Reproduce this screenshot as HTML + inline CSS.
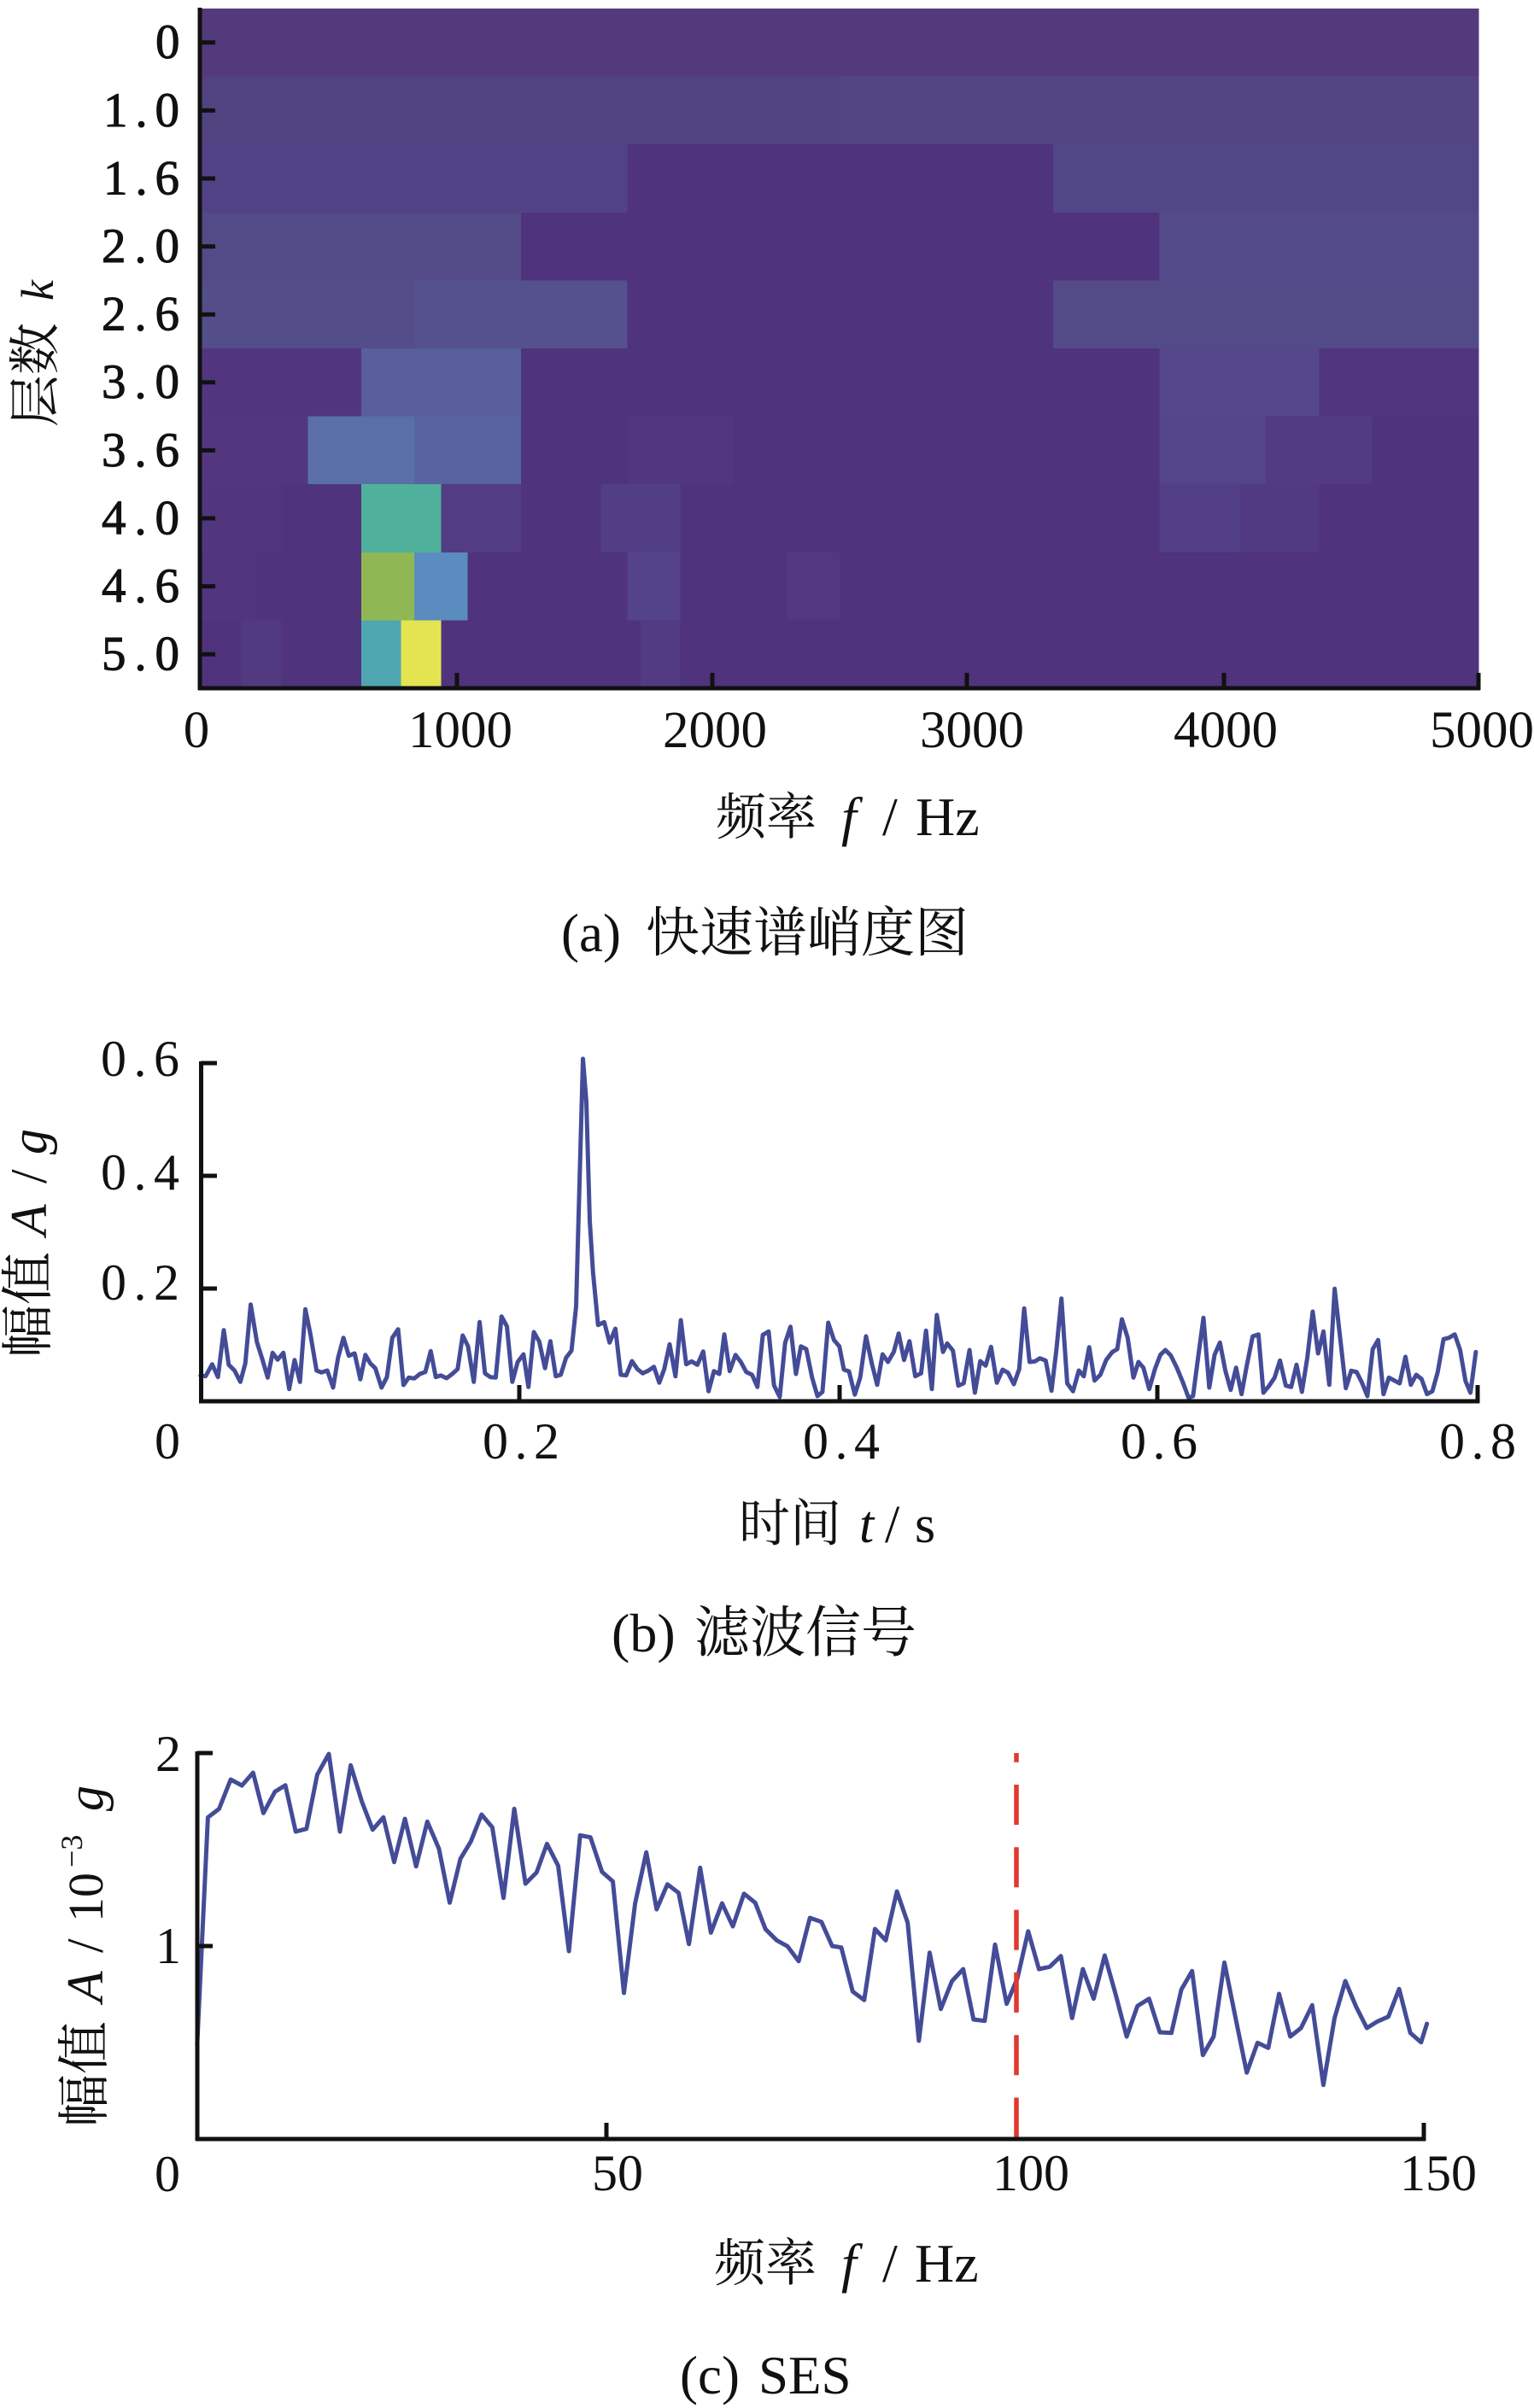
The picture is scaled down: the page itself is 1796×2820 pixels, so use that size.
<!DOCTYPE html>
<html>
<head>
<meta charset="utf-8">
<style>
  html,body{margin:0;padding:0;background:#fff;}
  svg{display:block;}
  text{font-family:"Liberation Serif","Noto Serif CJK SC",serif;fill:#111;}
  .cjk{font-family:"Liberation Serif","Noto Serif CJK SC","Noto Sans CJK SC",serif;}
</style>
</head>
<body>
<svg width="1796" height="2820" viewBox="0 0 1796 2820" xmlns="http://www.w3.org/2000/svg">
  <rect x="0" y="0" width="1796" height="2820" fill="#fff"/>

  <!-- ================= (a) Kurtogram ================= -->
  <g shape-rendering="crispEdges">
    <rect x="234" y="10" width="1497.3" height="796" fill="#4f337d"/>
    <rect x="234" y="10" width="1497.3" height="79.6" fill="#533a7d"/>
    <rect x="234" y="89.6" width="749.7" height="79.6" fill="#514380"/>
    <rect x="983.7" y="89.6" width="747.6" height="79.6" fill="#534584"/>
    <rect x="234" y="169.2" width="500.4" height="79.6" fill="#514286"/>
    <rect x="1232.9" y="169.2" width="498.4" height="79.6" fill="#524786"/>
    <rect x="234" y="248.8" width="375.8" height="79.6" fill="#534a88"/>
    <rect x="1357.5" y="248.8" width="373.8" height="79.6" fill="#534b89"/>
    <rect x="234" y="328.4" width="251.2" height="79.6" fill="#534d8a"/>
    <rect x="485.2" y="328.4" width="249.2" height="79.6" fill="#55508e"/>
    <rect x="1232.9" y="328.4" width="498.4" height="79.6" fill="#534a88"/>
    <rect x="234" y="408" width="188.9" height="79.6" fill="#51367f"/>
    <rect x="422.9" y="408" width="186.9" height="79.6" fill="#585f9b"/>
    <rect x="1357.5" y="408" width="186.9" height="79.6" fill="#54478a"/>
    <rect x="1544.4" y="408" width="186.9" height="79.6" fill="#51357e"/>
    <rect x="234" y="487.6" width="126.6" height="79.6" fill="#52377f"/>
    <rect x="360.6" y="487.6" width="124.6" height="79.6" fill="#5a6fa8"/>
    <rect x="485.2" y="487.6" width="124.6" height="79.6" fill="#5863a1"/>
    <rect x="734.4" y="487.6" width="124.6" height="79.6" fill="#51377f"/>
    <rect x="1357.5" y="487.6" width="124.6" height="79.6" fill="#534588"/>
    <rect x="1482.1" y="487.6" width="124.6" height="79.6" fill="#523b82"/>
    <rect x="234" y="567.2" width="95.5" height="79.6" fill="#51367e"/>
    <rect x="422.9" y="567.2" width="93.5" height="79.6" fill="#4fb19b"/>
    <rect x="516.4" y="567.2" width="93.4" height="79.6" fill="#523c83"/>
    <rect x="703.3" y="567.2" width="93.4" height="79.6" fill="#523e85"/>
    <rect x="1357.5" y="567.2" width="93.5" height="79.6" fill="#533f88"/>
    <rect x="1451" y="567.2" width="93.4" height="79.6" fill="#523a82"/>
    <rect x="234" y="646.8" width="64.3" height="79.6" fill="#51357e"/>
    <rect x="422.9" y="646.8" width="62.3" height="79.6" fill="#8fb855"/>
    <rect x="485.2" y="646.8" width="62.3" height="79.6" fill="#5a8cc0"/>
    <rect x="734.4" y="646.8" width="62.3" height="79.6" fill="#54438b"/>
    <rect x="921.4" y="646.8" width="62.3" height="79.6" fill="#51387f"/>
    <rect x="282.7" y="726.4" width="46.8" height="79.6" fill="#523a80"/>
    <rect x="422.9" y="726.4" width="46.7" height="79.6" fill="#4ea6b1"/>
    <rect x="469.6" y="726.4" width="46.8" height="79.6" fill="#e4e450"/>
    <rect x="750" y="726.4" width="46.7" height="79.6" fill="#523b83"/>
  </g>

  <g stroke="#111" stroke-width="5" fill="none">
    <line x1="234" y1="9" x2="234" y2="808"/>
    <line x1="232" y1="806" x2="1733" y2="806"/>
    <line x1="234" y1="49.8" x2="252" y2="49.8"/>
    <line x1="234" y1="129.4" x2="252" y2="129.4"/>
    <line x1="234" y1="209" x2="252" y2="209"/>
    <line x1="234" y1="288.6" x2="252" y2="288.6"/>
    <line x1="234" y1="368.2" x2="252" y2="368.2"/>
    <line x1="234" y1="447.8" x2="252" y2="447.8"/>
    <line x1="234" y1="527.4" x2="252" y2="527.4"/>
    <line x1="234" y1="607" x2="252" y2="607"/>
    <line x1="234" y1="686.6" x2="252" y2="686.6"/>
    <line x1="234" y1="766.2" x2="252" y2="766.2"/>
    <line x1="535" y1="806" x2="535" y2="788"/>
    <line x1="834" y1="806" x2="834" y2="788"/>
    <line x1="1132" y1="806" x2="1132" y2="788"/>
    <line x1="1433" y1="806" x2="1433" y2="788"/>
    <line x1="1731" y1="808" x2="1731" y2="788"/>
  </g>

  <g font-size="57" stroke="#111" stroke-width="1">
    <text x="182" y="68">0</text>
    <text x="121" y="148" textLength="89" lengthAdjust="spacing">1.0</text>
    <text x="121" y="227.5" textLength="89" lengthAdjust="spacing">1.6</text>
    <text x="119" y="307" textLength="91" lengthAdjust="spacing">2.0</text>
    <text x="119" y="386.5" textLength="91" lengthAdjust="spacing">2.6</text>
    <text x="119" y="466" textLength="91" lengthAdjust="spacing">3.0</text>
    <text x="119" y="546" textLength="91" lengthAdjust="spacing">3.6</text>
    <text x="119" y="625.5" textLength="91" lengthAdjust="spacing">4.0</text>
    <text x="119" y="705" textLength="91" lengthAdjust="spacing">4.6</text>
    <text x="119" y="784.5" textLength="91" lengthAdjust="spacing">5.0</text>
  </g>
  <g font-size="61" text-anchor="middle">
    <text x="230" y="875">0</text>
    <text x="539" y="875">1000</text>
    <text x="837" y="875">2000</text>
    <text x="1138" y="875">3000</text>
    <text x="1435" y="875">4000</text>
    <text x="1735" y="875">5000</text>
  </g>
  <text class="cjk" x="838" y="977" font-size="59">频率</text>
  <text x="985" y="978" font-size="64" font-style="italic">f</text>
  <text x="1033" y="978" font-size="64">/</text>
  <text x="1072" y="978" font-size="64">Hz</text>

  <text class="cjk" transform="translate(62,500) rotate(-90)" font-size="61">层数</text>
  <text transform="translate(62,352) rotate(-90)" font-size="54" font-style="italic">k</text>

  <text x="657" y="1114" font-size="63">(a)</text>
  <text class="cjk" x="756" y="1114" font-size="63">快速谱峭度图</text>

  <!-- ================= (b) Filtered signal ================= -->
  <polyline fill="none" stroke="#444c98" stroke-width="5" stroke-linejoin="round" stroke-linecap="round" points="
234.8,1611 240.7,1611.7 248.4,1597.7 255.2,1612.7 262,1557.7 267.8,1598.3 274.6,1605 281.4,1618.3 287.2,1596.7 293.5,1527.7 300.8,1571.7 307.6,1593.3 313.4,1613.3 319.2,1584.3 325,1592.3 331.8,1584.3 338.6,1626.7 344.9,1592.7 351.2,1618.3 357.5,1533.3 363.3,1561.7 370.6,1605 376.4,1607.3 383.2,1605 390,1625 395.8,1590 402.1,1566.7 408.4,1587.7 415.2,1585 421.9,1615.3 427.8,1586.7 433.6,1596.7 439.4,1602.3 446.7,1625 453,1612.7 459.3,1566.7 466.1,1556.7 472.4,1622 478.6,1613.3 485,1614.3 491.7,1609 498,1606.7 504.3,1582.3 510.2,1612.7 516,1610.7 522.8,1614 529.5,1609 535.8,1603.3 541.7,1564 548,1576.7 554.7,1618.3 561.5,1548.3 567.8,1608.3 574.1,1612.7 580.4,1613.3 587.2,1541.7 593.5,1553.3 599.8,1618.3 606.1,1595 612.9,1586 618.7,1624.3 625,1560 631.3,1571 638.1,1602.3 644.4,1570.7 650.7,1611.7 656.5,1610 662.8,1590 669.1,1581.7 674.5,1530 682.5,1240 686.5,1290 690.5,1430 694.3,1490 700.2,1551.7 707.4,1548.3 713.7,1572.3 720.5,1556 726.8,1610 733.1,1610.7 739.9,1594 746.2,1603.3 752.5,1608.3 759.3,1605 765.6,1600.7 771.9,1619.3 777.7,1603.3 784,1574.3 790.8,1611.7 797.1,1546 803.4,1597.7 809.7,1594.3 816.5,1598.3 823.3,1582.7 829.6,1629.3 835.9,1605.7 842.2,1609 848,1562.7 854.3,1605.7 861.1,1586.7 867.4,1595 873.7,1606.7 880.5,1610 886.8,1624.3 893.1,1563.3 899.9,1559.3 906.2,1622.3 912.9,1636 919.2,1572.7 925.5,1553.7 931.9,1609 937.7,1576.7 944,1580 950.8,1613.3 957.1,1635 962.9,1630 969.7,1549 976.4,1569.3 982.7,1576.7 988,1604 994,1606 1000.8,1633.3 1007.1,1613.3 1013.9,1565 1020.7,1596.7 1027,1621.7 1033.3,1586 1039.6,1595 1046.4,1583.3 1052.2,1561.7 1058.5,1592.7 1064.8,1570.7 1071.6,1611.7 1078.4,1608.3 1084.2,1558.3 1091,1626.7 1096.8,1540 1104.1,1583.3 1108.9,1573.3 1115.7,1581.7 1122,1622.7 1128.3,1620 1135.1,1581 1141.4,1631 1147.7,1594 1154,1599.3 1160.3,1577.3 1167.1,1619.3 1173.9,1604 1180.2,1607.7 1187,1621 1193.3,1603.3 1199.1,1532.3 1205.4,1595 1211.7,1594.3 1217.5,1590.7 1224.3,1593.3 1231.1,1628.7 1236.9,1580 1242.7,1520.7 1249.5,1620 1256.3,1629.3 1263.1,1605 1268.9,1611.7 1275.2,1577.7 1281.5,1616.7 1288.3,1610 1295.1,1592.7 1302.3,1583.3 1308.1,1580 1313.5,1545 1320.3,1566.7 1327,1613.3 1332.9,1595 1338.7,1601.7 1345.5,1626.7 1352.2,1603.3 1358.5,1586.7 1364.4,1581 1370.7,1587.3 1377.5,1601 1384.7,1618.3 1391.5,1636.7 1396.8,1635 1402.7,1590 1409,1543.3 1415.8,1625 1422,1586.7 1428.3,1572.3 1434.6,1605 1440.9,1627.7 1447.2,1601.7 1453.6,1632.7 1459.9,1598.3 1466.6,1565 1473.4,1562.7 1479.2,1631 1486,1622.7 1492.3,1613.3 1498.6,1593.3 1505.4,1622.7 1511.7,1624.3 1518,1598.3 1524.3,1630 1530.6,1590 1536.9,1536 1543.2,1585 1549.5,1559.3 1556.3,1621.7 1562.6,1509.3 1569.4,1570 1575.7,1625.7 1582,1605.3 1588.3,1606.7 1594.6,1619.3 1600.9,1635 1607.2,1580 1613.5,1569.3 1619.8,1632.7 1626.1,1613.3 1632.4,1616.7 1638.7,1620 1645.5,1589 1651.8,1621.7 1658.1,1610 1664.4,1615 1670.7,1632.7 1677,1629.3 1683.3,1606.7 1690.1,1568.3 1696.4,1566.7 1703.2,1562.7 1709.5,1581 1715.8,1617.3 1721.6,1631 1727.9,1583.3"/>

  <g stroke="#111" stroke-width="5" fill="none">
    <line x1="235.5" y1="1243" x2="235.5" y2="1643"/>
    <line x1="233" y1="1641" x2="1732" y2="1641"/>
    <line x1="235" y1="1245" x2="254" y2="1245"/>
    <line x1="235" y1="1377" x2="254" y2="1377"/>
    <line x1="235" y1="1509" x2="254" y2="1509"/>
    <line x1="608" y1="1641" x2="608" y2="1622"/>
    <line x1="983" y1="1641" x2="983" y2="1622"/>
    <line x1="1355" y1="1641" x2="1355" y2="1622"/>
    <line x1="1730" y1="1643" x2="1730" y2="1622"/>
  </g>

  <g font-size="60">
    <text x="118" y="1260" textLength="92" lengthAdjust="spacing">0.6</text>
    <text x="118" y="1393" textLength="92" lengthAdjust="spacing">0.4</text>
    <text x="118" y="1522" textLength="92" lengthAdjust="spacing">0.2</text>
    <text x="181" y="1708">0</text>
    <text x="565" y="1708" textLength="90" lengthAdjust="spacing">0.2</text>
    <text x="940" y="1708" textLength="90" lengthAdjust="spacing">0.4</text>
    <text x="1312" y="1708" textLength="90" lengthAdjust="spacing">0.6</text>
    <text x="1685" y="1708" textLength="90" lengthAdjust="spacing">0.8</text>
  </g>

  <text class="cjk" x="865" y="1805" font-size="60">时间</text>
  <text x="1006" y="1806" font-size="62" font-style="italic">t</text>
  <text x="1036" y="1806" font-size="62">/</text>
  <text x="1071" y="1806" font-size="62">s</text>

  <text class="cjk" transform="translate(54,1590) rotate(-90)" font-size="62">幅值</text>
  <text transform="translate(54,1447) rotate(-90)" font-size="60" font-style="italic">A</text>
  <text transform="translate(54,1386) rotate(-90)" font-size="60">/</text>
  <text transform="translate(54,1352) rotate(-90)" font-size="60" font-style="italic">g</text>

  <text x="716" y="1934" font-size="64">(b)</text>
  <text class="cjk" x="813" y="1934" font-size="65">滤波信号</text>

  <!-- ================= (c) SES ================= -->
  <polyline fill="none" stroke="#444c98" stroke-width="5" stroke-linejoin="round" stroke-linecap="round" points="
230.8,2395 243.4,2128.3 256.5,2118.3 270.1,2084 283.2,2091 296.3,2076 308.4,2123.3 321.9,2098.3 334.1,2090.7 346.2,2145 358.8,2141.7 371.4,2078.3 385,2054 398,2145 410.6,2067.3 423.7,2110 436.3,2142.7 448.9,2128.3 461.5,2180.7 474.1,2130 487.2,2185.7 500.3,2133.3 513.9,2165 526.5,2228.3 539.1,2176.7 551.2,2156.7 563.8,2125 576.4,2140 589.5,2222.7 602.1,2118.3 615.2,2206 628.3,2192.7 640.4,2159.3 653.5,2185 666.1,2285 679.2,2149.3 691.3,2151.7 704.9,2192.3 717.5,2203.3 730.5,2334 743.6,2229 756.7,2169.3 768.8,2236 781.4,2206.7 794.5,2216.7 806.6,2276.7 819.7,2187.3 832.3,2263.3 845.4,2229 858,2256 871.1,2217.7 884.2,2228.3 896.3,2259.3 909.4,2272.3 922,2279.3 935.1,2296.7 948.2,2246 961.7,2250.7 974.3,2279 985,2280.7 998.3,2332.3 1011.8,2342.3 1024.4,2259 1037,2272.3 1050.1,2215 1062.7,2251.7 1075.8,2390 1088.4,2286.7 1101.5,2352.7 1114.6,2320 1127.7,2306 1139.8,2365 1152.9,2366.7 1165,2277.3 1178.6,2346.7 1191.2,2316.7 1203.8,2261.7 1216.4,2306 1229,2303.3 1242.1,2290.7 1255.2,2363.3 1267.8,2306 1280.4,2340.7 1293.4,2290 1306.5,2336.7 1319.1,2385 1331.7,2349.3 1345.3,2340.7 1357.9,2380 1371.5,2380.7 1383.1,2330 1395.7,2308.3 1408.3,2406.7 1420.9,2385 1433.5,2298.3 1446.6,2363.3 1459.7,2427.3 1472.3,2392.3 1484.9,2398.3 1497.5,2335 1510.6,2385 1523.2,2375 1536.3,2348.3 1549.4,2441.7 1562.5,2363.3 1575.1,2320 1587.7,2350 1600.3,2375 1612.8,2367.3 1625.5,2361.7 1638.1,2329.3 1651.2,2380.7 1663.8,2391.7 1670.6,2370"/>

  <line x1="1190" y1="2053" x2="1190" y2="2503" stroke="#e0392f" stroke-width="5.5" stroke-dasharray="47 26.3" stroke-dashoffset="36.3"/>

  <g stroke="#111" stroke-width="5" fill="none">
    <line x1="231" y1="2051" x2="231" y2="2507"/>
    <line x1="229" y1="2505" x2="1669" y2="2505"/>
    <line x1="231" y1="2053" x2="249" y2="2053"/>
    <line x1="231" y1="2279" x2="249" y2="2279"/>
    <line x1="710" y1="2505" x2="710" y2="2486"/>
    <line x1="1667" y1="2507" x2="1667" y2="2486"/>
  </g>

  <g font-size="60">
    <text x="182" y="2074">2</text>
    <text x="182" y="2299">1</text>
    <text x="181" y="2566">0</text>
    <text x="723" y="2565" text-anchor="middle">50</text>
    <text x="1207" y="2565" text-anchor="middle">100</text>
    <text x="1684" y="2565" text-anchor="middle">150</text>
  </g>

  <text class="cjk" x="836" y="2671" font-size="60">频率</text>
  <text x="985" y="2672" font-size="64" font-style="italic">f</text>
  <text x="1033" y="2672" font-size="64">/</text>
  <text x="1071" y="2672" font-size="64">Hz</text>

  <text class="cjk" transform="translate(120,2491) rotate(-90)" font-size="62">幅值</text>
  <text transform="translate(120,2345) rotate(-90)" font-size="60" font-style="italic">A</text>
  <text transform="translate(120,2287) rotate(-90)" font-size="60">/</text>
  <text transform="translate(120,2251) rotate(-90)" font-size="58">10</text>
  <text transform="translate(96,2187) rotate(-90)" font-size="36">−3</text>
  <text transform="translate(120,2121) rotate(-90)" font-size="60" font-style="italic">g</text>

  <text x="796" y="2803" font-size="63">(c)</text>
  <text x="888" y="2803" font-size="63">SES</text>
</svg>
</body>
</html>
